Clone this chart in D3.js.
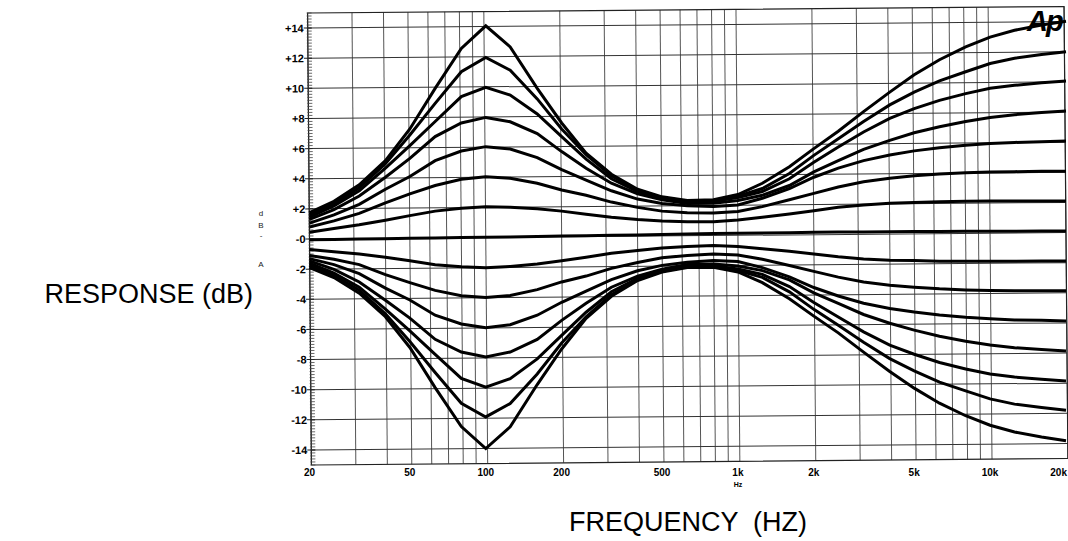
<!DOCTYPE html>
<html>
<head>
<meta charset="utf-8">
<script src="https://cdn.jsdelivr.net/npm/d3@7"></script>
<style>
  body { margin: 0; background: #fff; }
  svg { display: block; }
</style>
</head>
<body>
<div id="chart"></div>
<script>
// measurement frequencies (1/3 octave)
const freqs = [20, 25, 31.5, 40, 50, 63, 80, 100, 125, 160, 200, 250, 315, 400, 500, 630, 800,
  1000, 1250, 1600, 2000, 2500, 3150, 4000, 5000, 6300, 8000, 10000, 12500, 16000, 20000];

// response in dB
const flat    = [-0.05, -0.03, 0, 0.02, 0.05, 0.07, 0.1, 0.12, 0.14, 0.17, 0.2, 0.22, 0.25, 0.27, 0.3, 0.33, 0.36, 0.38, 0.4, 0.42, 0.44, 0.46, 0.47, 0.48, 0.5, 0.5, 0.51, 0.52, 0.52, 0.53, 0.53];
const boost14 = [1.75, 2.5, 3.6, 5.2, 7.3, 10.0, 12.65, 14.15, 12.75, 10.0, 7.7, 5.7, 4.3, 3.3, 2.8, 2.55, 2.6, 2.95, 3.7, 4.8, 6.0, 7.15, 8.45, 9.75, 10.9, 11.9, 12.75, 13.4, 13.85, 14.2, 14.45];
const boost12 = [1.6, 2.35, 3.4, 5.0, 6.9, 9.0, 11.1, 12.05, 11.2, 9.3, 7.3, 5.6, 4.2, 3.25, 2.75, 2.5, 2.55, 2.85, 3.35, 4.35, 5.55, 6.65, 7.8, 8.9, 9.75, 10.5, 11.1, 11.65, 12.0, 12.25, 12.43];
const boost10 = [1.45, 2.2, 3.2, 4.7, 6.2, 7.8, 9.45, 10.07, 9.55, 8.3, 6.8, 5.3, 4.0, 3.15, 2.7, 2.45, 2.5, 2.75, 3.15, 4.0, 5.1, 6.1, 7.1, 8.0, 8.65, 9.2, 9.65, 10.0, 10.2, 10.37, 10.48];
const boost8  = [1.3, 1.95, 2.85, 4.1, 5.35, 6.8, 7.7, 8.07, 7.78, 7.0, 5.8, 4.7, 3.7, 3.0, 2.6, 2.35, 2.38, 2.55, 2.9, 3.55, 4.45, 5.2, 5.95, 6.55, 7.05, 7.45, 7.8, 8.07, 8.25, 8.4, 8.5];
const boost6  = [1.05, 1.6, 2.3, 3.3, 4.15, 5.2, 5.84, 6.13, 5.97, 5.4, 4.6, 3.9, 3.2, 2.65, 2.35, 2.2, 2.15, 2.26, 2.7, 3.35, 4.1, 4.7, 5.2, 5.57, 5.85, 6.05, 6.22, 6.34, 6.41, 6.46, 6.5];
const boost4  = [0.8, 1.2, 1.7, 2.4, 3.0, 3.55, 3.96, 4.13, 4.03, 3.7, 3.25, 2.9, 2.45, 2.1, 1.85, 1.75, 1.72, 1.82, 2.15, 2.6, 3.03, 3.45, 3.8, 4.03, 4.2, 4.31, 4.4, 4.45, 4.47, 4.49, 4.5];
const boost2  = [0.45, 0.7, 0.95, 1.25, 1.55, 1.85, 2.04, 2.14, 2.1, 2.0, 1.85, 1.65, 1.45, 1.3, 1.2, 1.15, 1.15, 1.26, 1.44, 1.66, 1.88, 2.1, 2.26, 2.37, 2.43, 2.48, 2.5, 2.52, 2.52, 2.52, 2.52];
const cut2    = [-0.7, -0.85, -1.0, -1.21, -1.45, -1.71, -1.84, -1.9, -1.82, -1.66, -1.45, -1.21, -0.95, -0.76, -0.6, -0.49, -0.43, -0.5, -0.64, -0.82, -1.0, -1.18, -1.32, -1.41, -1.43, -1.48, -1.48, -1.48, -1.48, -1.46, -1.46];
const cut4    = [-1.1, -1.35, -1.7, -2.36, -2.9, -3.41, -3.76, -3.89, -3.75, -3.36, -2.85, -2.46, -1.95, -1.56, -1.25, -1.09, -1.0, -1.06, -1.35, -1.76, -2.15, -2.53, -2.86, -3.07, -3.2, -3.31, -3.38, -3.41, -3.43, -3.43, -3.44];
const cut6    = [-1.3, -1.7, -2.3, -3.26, -4.05, -5.06, -5.64, -5.89, -5.69, -5.06, -4.2, -3.46, -2.7, -2.11, -1.75, -1.54, -1.43, -1.5, -1.9, -2.51, -3.22, -3.78, -4.26, -4.61, -4.85, -5.05, -5.2, -5.3, -5.37, -5.4, -5.44];
const cut8    = [-1.45, -2.01, -2.85, -4.06, -5.25, -6.66, -7.5, -7.83, -7.5, -6.66, -5.4, -4.26, -3.2, -2.46, -2.0, -1.69, -1.66, -1.79, -2.1, -2.71, -3.57, -4.28, -5.01, -5.59, -6.05, -6.45, -6.78, -7.03, -7.21, -7.34, -7.44];
const cut10   = [-1.6, -2.26, -3.2, -4.66, -6.1, -7.66, -9.25, -9.83, -9.27, -7.96, -6.4, -4.86, -3.5, -2.61, -2.1, -1.79, -1.78, -1.99, -2.35, -3.16, -4.22, -5.18, -6.16, -7.04, -7.65, -8.2, -8.63, -8.96, -9.16, -9.31, -9.42];
const cut12   = [-1.75, -2.41, -3.4, -4.96, -6.8, -8.86, -10.9, -11.81, -10.92, -8.96, -6.9, -5.16, -3.7, -2.71, -2.15, -1.84, -1.83, -2.09, -2.55, -3.51, -4.67, -5.73, -6.86, -7.94, -8.75, -9.5, -10.08, -10.61, -10.96, -11.19, -11.37];
const cut14   = [-1.9, -2.56, -3.6, -5.16, -7.2, -9.86, -12.45, -13.91, -12.47, -9.66, -7.3, -5.26, -3.8, -2.76, -2.2, -1.89, -1.88, -2.19, -2.9, -3.96, -5.12, -6.23, -7.51, -8.79, -9.9, -10.9, -11.73, -12.36, -12.81, -13.14, -13.39];

const series = [boost14, boost12, boost10, boost8, boost6, boost4, boost2, flat,
  cut2, cut4, cut6, cut8, cut10, cut12, cut14];

// tick labels
const xTickValues = [20, 50, 100, 200, 500, 1000, 2000, 5000, 10000, 20000];
const xTickLabels = ["20", "50", "100", "200", "500", "1k", "2k", "5k", "10k", "20k"];
const yTickValues = [14, 12, 10, 8, 6, 4, 2, 0, -2, -4, -6, -8, -10, -12, -14];
const yTickLabels = ["+14", "+12", "+10", "+8", "+6", "+4", "+2", "-0", "-2", "-4", "-6", "-8", "-10", "-12", "-14"];

// dimensions
const width = 1068, height = 541;
const plotLeft = 309.5, plotRight = 1066, plotTop = 13, plotBottom = 465;
const skew = -0.49; // the scanned grid is tilted a little

const x = d3.scaleLog().domain([20, 20000]).range([plotLeft, plotRight]);
const y = d3.scaleLinear().domain([-15, 15]).range([plotBottom, plotTop]);

const svg = d3.select("#chart").append("svg")
    .attr("width", width)
    .attr("height", height)
    .style("font-family", "'Liberation Sans', Arial, sans-serif");

// grid, rotated like the scan
const grid = svg.append("g").attr("transform", `rotate(${skew},${plotLeft},${y(0)})`);

grid.selectAll("line.v")
    .data(x.ticks())
    .join("line")
    .attr("class", "v")
    .attr("x1", d => x(d)).attr("x2", d => x(d))
    .attr("y1", plotTop).attr("y2", plotBottom)
    .attr("stroke", "#555")
    .attr("stroke-width", 1);

grid.selectAll("line.h")
    .data(d3.range(-14, 15, 2))
    .join("line")
    .attr("class", "h")
    .attr("x1", plotLeft).attr("x2", plotRight)
    .attr("y1", d => y(d)).attr("y2", d => y(d))
    .attr("stroke", "#333")
    .attr("stroke-width", 1);

grid.append("rect")
    .attr("x", plotLeft).attr("y", plotTop)
    .attr("width", plotRight - plotLeft).attr("height", plotBottom - plotTop)
    .attr("fill", "none")
    .attr("stroke", "#222")
    .attr("stroke-width", 1.2);

// ruler ticks on the left edge
grid.selectAll("line.minor")
    .data(d3.range(-75, 76).map(i => i / 5))
    .join("line")
    .attr("class", "minor")
    .attr("x1", plotLeft - 1).attr("x2", plotLeft + 4)
    .attr("y1", d => y(d)).attr("y2", d => y(d))
    .attr("stroke", "#444")
    .attr("stroke-width", 0.8);

grid.selectAll("line.major")
    .data(yTickValues)
    .join("line")
    .attr("class", "major")
    .attr("x1", plotLeft - 4).attr("x2", plotLeft + 4)
    .attr("y1", d => y(d)).attr("y2", d => y(d))
    .attr("stroke", "#222")
    .attr("stroke-width", 1);

grid.selectAll("text.ylab")
    .data(yTickValues)
    .join("text")
    .attr("class", "ylab")
    .attr("x", plotLeft - 4)
    .attr("y", d => y(d) + 4)
    .attr("text-anchor", "end")
    .attr("font-size", 11)
    .attr("font-weight", 700)
    .text((d, i) => yTickLabels[i]);

// curves
const line = d3.line()
    .x((d, i) => x(freqs[i]))
    .y(d => y(d));

svg.append("g").selectAll("path")
    .data(series)
    .join("path")
    .attr("d", line)
    .attr("fill", "none")
    .attr("stroke", "#000")
    .attr("stroke-width", 3)
    .attr("stroke-linejoin", "miter")
    .attr("stroke-miterlimit", 4);

// x tick labels
svg.selectAll("text.xlab")
    .data(xTickValues)
    .join("text")
    .attr("class", "xlab")
    .attr("x", d => d === 20000 ? plotRight + 1 : x(d))
    .attr("y", 476)
    .attr("text-anchor", d => d === 20000 ? "end" : "middle")
    .attr("font-size", 10)
    .attr("font-weight", 700)
    .text((d, i) => xTickLabels[i]);

svg.append("text")
    .attr("x", x(1000)).attr("y", 487)
    .attr("text-anchor", "middle")
    .attr("font-size", 7)
    .attr("font-weight", 700)
    .text("Hz");

// remains of the original vertical unit label
const strayChars = ["d", "B", "-", "A"];
const strayY = [216, 228, 238, 267];
svg.selectAll("text.stray")
    .data(strayChars)
    .join("text")
    .attr("class", "stray")
    .attr("x", 261).attr("y", (d, i) => strayY[i])
    .attr("text-anchor", "middle")
    .attr("font-size", 8)
    .attr("fill", "#222")
    .text(d => d);

// logo
svg.append("text")
    .attr("x", 1027).attr("y", 31)
    .attr("font-size", 29)
    .attr("font-weight", 700)
    .attr("font-style", "italic")
    .attr("letter-spacing", -2)
    .text("Ap");

// axis titles
svg.append("text")
    .attr("x", 253).attr("y", 303)
    .attr("text-anchor", "end")
    .attr("font-size", 27)
    .text("RESPONSE (dB)");

svg.append("text")
    .attr("x", 688).attr("y", 531)
    .attr("text-anchor", "middle")
    .attr("font-size", 27)
    .attr("xml:space", "preserve")
    .style("white-space", "pre")
    .text("FREQUENCY  (HZ)");
</script>
</body>
</html>
